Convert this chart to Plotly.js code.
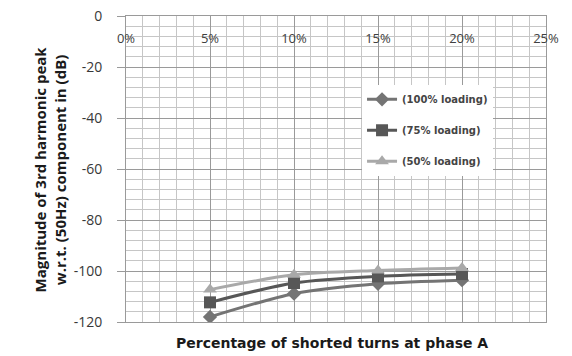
<!DOCTYPE html>
<html>
<head>
<meta charset="utf-8">
<script src="https://cdn.plot.ly/plotly-3.0.1.min.js"></script>
<style>html,body{margin:0;padding:0;background:#fff;}#chart{width:572px;height:356px;}</style>
</head>
<body>
<div id="chart"></div>
<script>
// Data
const shortedTurns = [5, 10, 15, 20];               // % of shorted turns at phase A
const seriesNames = ['(100% loading)', '(75% loading)', '(50% loading)'];
const load100 = [-118.0, -108.9, -105.0, -103.6];
const load75  = [-112.3, -104.7, -102.1, -101.2];
const load50  = [-107.3, -101.5, -99.8, -98.8];
const xTicks = [0, 5, 10, 15, 20, 25];
const xTickText = ['0%', '5%', '10%', '15%', '20%', '25%'];
const yTicks = [0, -20, -40, -60, -80, -100, -120];
const yTickText = ['0', '-20', '-40', '-60', '-80', '-100', '-120'];
const yTitleLines = ['Magnitude of 3rd harmonic peak', 'w.r.t. (50Hz) component in (dB)'];
const xTitle = 'Percentage of shorted turns at phase A';

const series = [
  {name: seriesNames[0], y: load100, color: '#747474', symbol: 'diamond', size: 11},
  {name: seriesNames[1], y: load75,  color: '#575757', symbol: 'square',  size: 12},
  {name: seriesNames[2], y: load50,  color: '#a9a9a9', symbol: 'triangle-up', size: 12}
];

const traces = series.map((s, i) => ({
  type: 'scatter', mode: 'lines+markers', name: s.name,
  x: shortedTurns, y: s.y, legendgroup: 'g' + i,
  line: {color: s.color, width: 3, shape: 'spline', smoothing: 0.8},
  marker: {color: s.color, symbol: s.symbol, size: s.size}
}));

const layout = {
  width: 572, height: 356,
  margin: {l: 126, r: 26, t: 16, b: 34},
  paper_bgcolor: '#ffffff', plot_bgcolor: '#ffffff',
  showlegend: true,
  legend: {
    x: 0.562, y: 0.775, xanchor: 'left', yanchor: 'top',
    bgcolor: 'rgba(255,255,255,1)', borderwidth: 0,
    font: {family: 'DejaVu Sans', size: 10, color: '#444444', weight: 'bold'},
    traceorder: 'grouped', tracegroupgap: 12, itemwidth: 30
  },
  xaxis: {
    range: [0, 25], side: 'top', tickvals: xTicks, ticktext: xTickText,
    ticks: '', ticklabelposition: 'inside', ticklabelstandoff: 18, ticklabeloverflow: 'allow',
    tickfont: {family: 'Open Sans', size: 13, color: '#404040'},
    showgrid: true, gridcolor: '#9a9a9a', gridwidth: 1,
    minor: {dtick: 1, showgrid: true, gridcolor: '#c6c6c6', gridwidth: 1},
    zeroline: false, showline: true, linecolor: '#9a9a9a', mirror: true, fixedrange: true
  },
  yaxis: {
    range: [-120, 0], tickvals: yTicks, ticktext: yTickText,
    ticks: 'outside', ticklen: 8, tickcolor: '#9a9a9a', ticklabelstandoff: 12, ticklabeloverflow: 'allow',
    tickfont: {family: 'Open Sans', size: 14, color: '#383838'},
    showgrid: true, gridcolor: '#9a9a9a', gridwidth: 1,
    minor: {dtick: 4, showgrid: true, gridcolor: '#c6c6c6', gridwidth: 1},
    zeroline: false, showline: true, linecolor: '#9a9a9a', mirror: true, fixedrange: true
  },
  shapes: [{
    type: 'rect', xref: 'paper', yref: 'paper', layer: 'between',
    x0: 0.557, x1: 0.957, y0: 0.455, y1: 0.775,
    fillcolor: '#ffffff', line: {width: 0}
  }],
  annotations: [
    {text: yTitleLines.join('<br>'), xref: 'paper', yref: 'paper', x: -0.18, y: 0.5,
     xanchor: 'center', yanchor: 'middle', textangle: -90, showarrow: false,
     font: {family: 'Open Sans', size: 15, color: '#1a1a1a', weight: 'bold'}},
    {text: xTitle, xref: 'paper', yref: 'paper', x: 0.49, y: -0.07,
     xanchor: 'center', yanchor: 'middle', showarrow: false,
     font: {family: 'DejaVu Sans', size: 14, color: '#1a1a1a', weight: 'bold'}}
  ]
};

Plotly.newPlot('chart', traces, layout, {displayModeBar: false, staticPlot: true});
</script>
</body>
</html>
